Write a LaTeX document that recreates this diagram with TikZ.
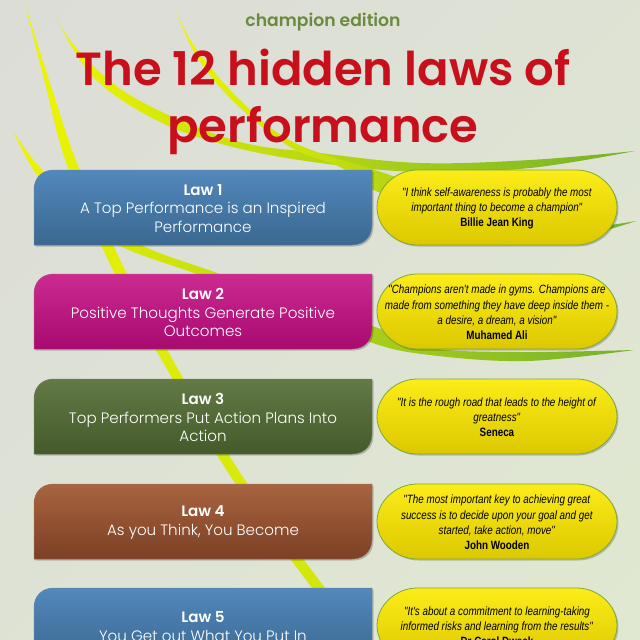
\documentclass[tikz,border=0pt]{standalone}
\usepackage{fontspec}
\setmainfont{Poppins}
\newfontfamily\lawfont{Poppins Light}
\newfontfamily\headfont{Poppins SemiBold}
\newfontfamily\quotefont[FakeStretch=0.82]{Liberation Sans}
\definecolor{bgA}{HTML}{DCDCD8}
\definecolor{bgB}{HTML}{E0E9D0}
\definecolor{swY}{HTML}{EEF500}
\definecolor{swL}{HTML}{CFE60C}
\definecolor{swG}{HTML}{74B22A}
\definecolor{titleRed}{HTML}{C8101C}
\definecolor{editionGreen}{HTML}{6A8A3C}
\definecolor{blueT}{HTML}{5288BC}\definecolor{blueB}{HTML}{3A6890}
\definecolor{magT}{HTML}{CC2A90}\definecolor{magB}{HTML}{A80A70}
\definecolor{oliveT}{HTML}{627A46}\definecolor{oliveB}{HTML}{445A2A}
\definecolor{brownT}{HTML}{A86440}\definecolor{brownB}{HTML}{7C4024}
\definecolor{pillT}{HTML}{FCEC18}\definecolor{pillB}{HTML}{DCC800}
\definecolor{pillE}{HTML}{7EA838}
\tikzset{
  swooshA/.style={top color=swY,bottom color=swL,draw=none},
  swooshG/.style={left color=swY,middle color=swL,right color=swG,draw=none},
  lawtext/.style={text=white,align=center,font=\lawfont\fontsize{15.1}{18.5}\selectfont,inner sep=0pt},
  quotetext/.style={text=black,align=center,font=\quotefont\fontsize{12}{15.2}\selectfont,inner sep=0pt},
  softshadow/.style={fill=black,opacity=0.2,draw=none},
  titletext/.style={text=titleRed,font=\headfont\fontsize{46.5}{57}\selectfont,align=center,inner sep=0pt},
  edge curve/.style={smooth,tension=0.6}
}
\newcommand{\lawshape}[2]{(#1+34,#2+20) .. controls (#1+34,#2+8) and (#1+42,#2) .. (#1+54,#2) -- (#1+372,#2) -- (#1+372,#2+55)
    .. controls (#1+372,#2+67) and (#1+364,#2+75) .. (#1+352,#2+75) -- (#1+34,#2+75) -- cycle}
\newcommand{\pillshape}[2]{(#1+417,#2) -- (#1+577,#2) .. controls (#1+597.6,#2) and (#1+617,#2+16.9) .. (#1+617,#2+37.5)
    .. controls (#1+617,#2+58.1) and (#1+597.6,#2+75) .. (#1+577,#2+75) -- (#1+417,#2+75)
    .. controls (#1+396.4,#2+75) and (#1+377,#2+58.1) .. (#1+377,#2+37.5)
    .. controls (#1+377,#2+16.9) and (#1+396.4,#2) .. (#1+417,#2) -- cycle}
% #1 name, #2 top y, #3 top colour, #4 bottom colour, #5 text
\newcommand{\lawbox}[5]{
  \path[softshadow] \lawshape{1.5}{#2+1.5};
  \path[top color=#3,bottom color=#4,draw=#3!65!gray,line width=0.5pt] \lawshape{0}{#2};
  \node[lawtext] (#1) at (203,#2+38.5) {#5};
}
% #1 name, #2 top y, #3 text
\newcommand{\quotepill}[3]{
  \path[softshadow] \pillshape{1.5}{#2+1.5};
  \path[top color=pillT,bottom color=pillB,draw=pillE,line width=0.8pt] \pillshape{0}{#2};
  \node[quotetext] (#1) at (497,#2+38.5) {#3};
}
\begin{document}
\begin{tikzpicture}[x=1pt,y=-1pt]
\useasboundingbox (0,0) rectangle (640,640);
\clip (0,0) rectangle (640,640);
\shade[shading=axis,left color=bgA,right color=bgB,shading angle=45] (-200,-200) rectangle (840,840);
% long swoosh from top left to bottom
\path[swooshA] plot[edge curve] coordinates {(25,4)(45,83)(68,168)(115,274)(172,378)(235,483)(312,588)(350,640)}
  -- plot[edge curve] coordinates {(362,640)(325,588)(247,483)(183,378)(127,274)(79,168)(50,83)(25,4)} -- cycle;
% small left swoosh continuing to the lower green tail
\path[swooshG] plot[edge curve] coordinates {(13,131)(42,170)(90,212)(143,246)(220,274)(300,303)(378,328)(430,348)(520,352)(634,350)}
  -- plot[edge curve] coordinates {(634,350)(527,361)(430,355)(370,342)(290,306)(197,274)(120,246)(75,215)(37,175)(13,131)} -- cycle;
% swoosh to the upper right tail
\path[swooshG] plot[edge curve] coordinates {(55,15)(78,50)(133,97)(233,140)(320,153)(420,163)(530,160)(635,151)}
  -- plot[edge curve] coordinates {(635,151)(530,168)(420,172)(320,163)(233,147)(160,122)(93,77)(55,15)} -- cycle;
% swoosh to the tail right of the first quote
\path[swooshG] plot[edge curve] coordinates {(175,9)(195,47)(240,100)(295,143)(390,175)(500,215)(570,228)(636,221)}
  -- plot[edge curve] coordinates {(636,221)(570,238)(500,235)(378,192)(340,167)(290,147)(235,103)(197,57)(175,9)} -- cycle;
\node[text=editionGreen,font=\headfont\fontsize{17.2}{20}\selectfont,inner sep=0pt] (edition) at (323,22) {champion edition};
\node[titletext] (title) at (323,102) {The 12 hidden laws of\\performance};
\lawbox{law1}{170}{blueT}{blueB}{\textbf{Law 1}\\A Top Performance is an Inspired\\Performance}
\lawbox{law2}{274}{magT}{magB}{\textbf{Law 2}\\Positive Thoughts Generate Positive\\Outcomes}
\lawbox{law3}{379}{oliveT}{oliveB}{\textbf{Law 3}\\Top Performers Put Action Plans Into\\Action}
\lawbox{law4}{484}{brownT}{brownB}{\textbf{Law 4}\\As you Think, You Become}
\lawbox{law5}{588}{blueT}{blueB}{\textbf{Law 5}\\You Get out What You Put In}
\quotepill{quote1}{170}{\textit{"I think self-awareness is probably the most}\\\textit{important thing to become a champion"}\\\textbf{Billie Jean King}}
\quotepill{quote2}{274}{\textit{"Champions aren't made in gyms. Champions are}\\\textit{made from something they have deep inside them -}\\\textit{a desire, a dream, a vision"}\\\textbf{Muhamed Ali}}
\quotepill{quote3}{379}{\textit{"It is the rough road that leads to the height of}\\\textit{greatness"}\\\textbf{Seneca}}
\quotepill{quote4}{484}{\textit{"The most important key to achieving great}\\\textit{success is to decide upon your goal and get}\\\textit{started, take action, move"}\\\textbf{John Wooden}}
\quotepill{quote5}{588}{\textit{"It's about a commitment to learning-taking}\\\textit{informed risks and learning from the results"}\\\textbf{Dr Carol Dweck}}
\end{tikzpicture}
\end{document}
